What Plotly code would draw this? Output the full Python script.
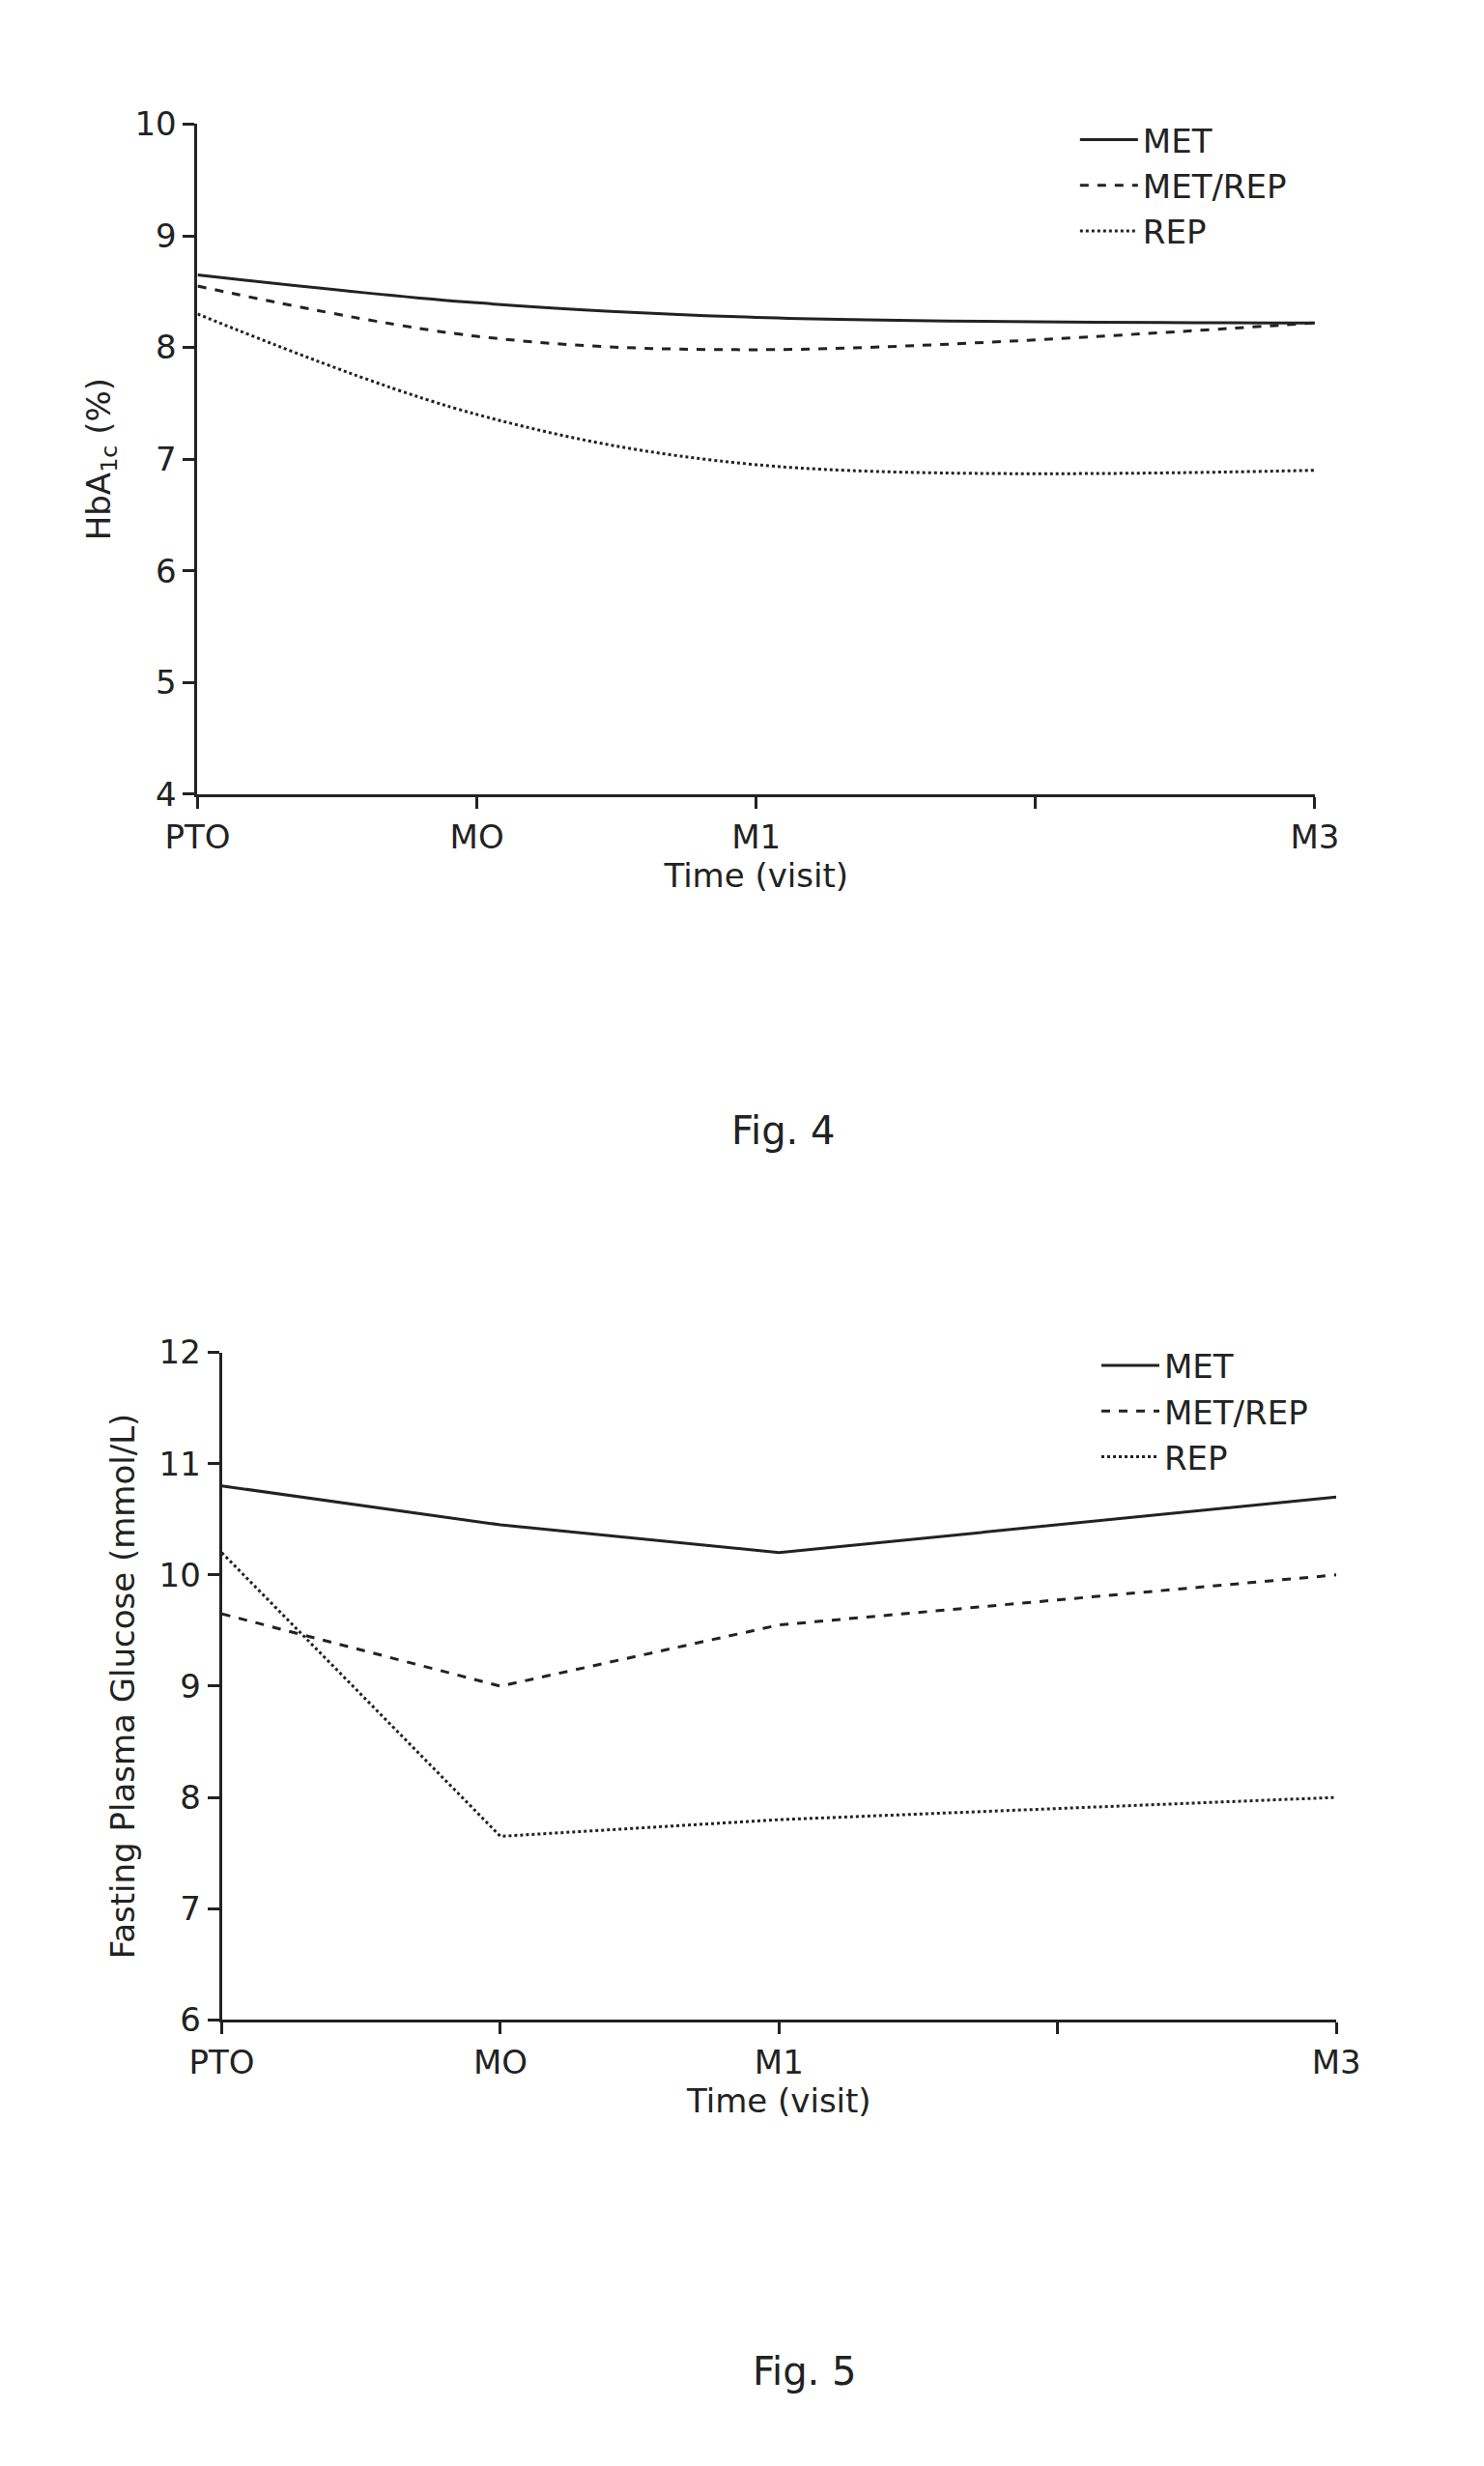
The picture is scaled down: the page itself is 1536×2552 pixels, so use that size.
import plotly.graph_objects as go

visits = [0, 1, 2, 4]
tick_vals = [0, 1, 2, 3, 4]
tick_text = ["PTO", "MO", "M1", "", "M3"]

# Fig. 4 - HbA1c (%)
hba1c_met = [8.65, 8.4, 8.27, 8.22]
hba1c_metrep = [8.55, 8.1, 7.98, 8.22]
hba1c_rep = [8.3, 7.4, 6.95, 6.9]

# Fig. 5 - fasting plasma glucose (mmol/L)
fpg_met = [10.8, 10.45, 10.2, 10.7]
fpg_metrep = [9.65, 9.0, 9.55, 10.0]
fpg_rep = [10.2, 7.65, 7.8, 8.0]

names = ["MET", "MET/REP", "REP"]
dashes = ["solid", "dash", "dot"]
ink = "#222"
font = dict(family="DejaVu Sans", size=34, color=ink)

fig = go.Figure()
for ys, xa, ya, lg, shp in [((hba1c_met, hba1c_metrep, hba1c_rep), "x", "y", "legend", "spline"),
                           ((fpg_met, fpg_metrep, fpg_rep), "x2", "y2", "legend2", "linear")]:
    for vals, nm, ds in zip(ys, names, dashes):
        fig.add_trace(go.Scatter(x=visits, y=vals, name=nm, mode="lines",
                                 line=dict(color=ink, width=3, dash=ds, shape=shp),
                                 xaxis=xa, yaxis=ya, legend=lg))

axis_common = dict(showline=True, linecolor=ink, linewidth=3, ticks="outside",
                   ticklen=12, tickwidth=3, tickcolor=ink, showgrid=False,
                   zeroline=False, tickfont=font)

fig.update_layout(
    width=1536, height=2552, margin=dict(l=0, r=0, t=0, b=0),
    paper_bgcolor="white", plot_bgcolor="white", font=font,
    xaxis=dict(axis_common, domain=[0.11, 0.893], range=[0, 4], tickvals=tick_vals,
               ticktext=tick_text, anchor="y",
               title=dict(text="Time (visit)", font=font, standoff=8)),
    yaxis=dict(axis_common, domain=[0.684, 0.96], range=[4, 10], dtick=1, anchor="x",
               title=dict(text="HbA<sub>1c</sub> (%)", font=font)),
    xaxis2=dict(axis_common, domain=[0.127, 0.908], range=[0, 4], tickvals=tick_vals,
                ticktext=tick_text, anchor="y2",
                title=dict(text="Time (visit)", font=font, standoff=8)),
    yaxis2=dict(axis_common, domain=[0.179, 0.454], range=[6, 12], dtick=1, anchor="x2",
                title=dict(text="Fasting Plasma Glucose (mmol/L)", font=font)),
    legend=dict(x=0.725, y=0.965, xanchor="left", yanchor="top", font=font,
                bgcolor="rgba(0,0,0,0)", tracegroupgap=0, itemwidth=60),
    legend2=dict(x=0.74, y=0.46, xanchor="left", yanchor="top", font=font,
                 bgcolor="rgba(0,0,0,0)", tracegroupgap=0, itemwidth=60),
    annotations=[
        dict(text="Fig. 4", x=0.52, y=1 - 1160 / 2552, xref="paper", yref="paper",
             showarrow=False, font=dict(family="DejaVu Sans", size=40, color=ink)),
        dict(text="Fig. 5", x=0.535, y=1 - 2490 / 2552, xref="paper", yref="paper",
             showarrow=False, font=dict(family="DejaVu Sans", size=40, color=ink)),
    ],
)

fig.write_html("out.html")
